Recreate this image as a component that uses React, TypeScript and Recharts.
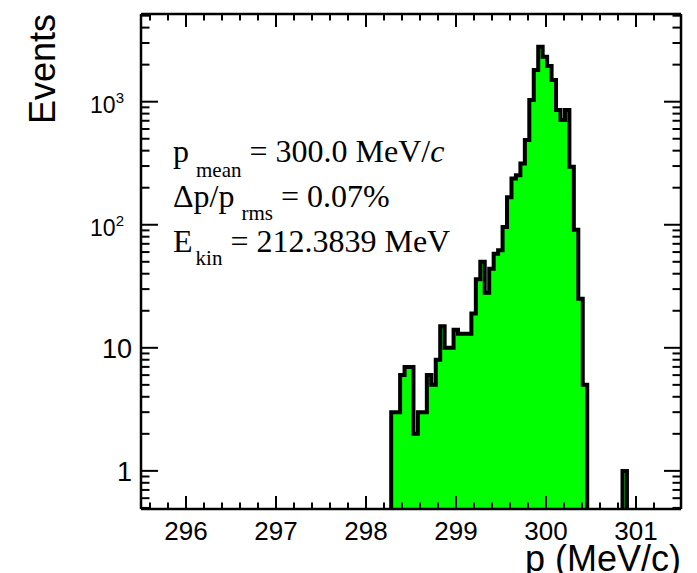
import React from "react";
import { ComposedChart, Area, XAxis, YAxis } from "recharts";

// histogram binning, p in MeV/c
const P_MIN = 295.5;
const P_MAX = 301.5;
const BIN_WIDTH = 0.0495;

// filled bins, read one by one starting at FIRST_BIN
const FIRST_BIN = 298.28;
const counts = [
  3, 3, 6, 7, 7, 2, 3, 3, 6, 5, 8, 15, 10, 10, 14, 13, 13, 13, 19, 36, 50, 28,
  44, 58, 62, 96, 167, 238, 253, 315, 488, 1032, 1811, 2800, 2323, 1950, 1500,
  857, 710, 857, 296, 91, 25, 5,
];

// lone bin out in the tail
const strayBins = [300.85];
const strayCounts = [1];

const Y_MIN = 0.49;
const Y_MAX = 5160;
// empty bins are drawn below the frame and clipped away (log axis has no 0)
const EMPTY = 0.3;

const xMajor = [296, 297, 298, 299, 300, 301];
const yDecades = [1, 10, 100, 1000];
const yLabels: Record<number, [string, string]> = {
  1: ["1", ""],
  10: ["10", ""],
  100: ["10", "2"],
  1000: ["10", "3"],
};

const r2 = (v: number) => Math.round(v * 10000) / 10000;

const xTicks: number[] = [];
for (let i = 0; i < 29; i++) xTicks.push(r2(P_MIN + 0.1 + i * 0.2));
const yTicks: number[] = [0.5, 0.6, 0.7, 0.8, 0.9];
[1, 10, 100, 1000].forEach((d) => {
  for (let m = 1; m <= 9; m++) if (d * m <= Y_MAX) yTicks.push(d * m);
});

const rows: { p: number; n: number }[] = [{ p: P_MIN, n: EMPTY }];
counts.forEach((c, i) => rows.push({ p: r2(FIRST_BIN + i * BIN_WIDTH), n: c }));
rows.push({ p: r2(FIRST_BIN + counts.length * BIN_WIDTH), n: EMPTY });
strayBins.forEach((p, i) => {
  rows.push({ p, n: strayCounts[i] });
  rows.push({ p: r2(p + BIN_WIDTH), n: EMPTY });
});
rows.push({ p: P_MAX, n: EMPTY });

const SANS = "'Liberation Sans', Arial, sans-serif";
const SERIF = "'Liberation Serif', 'Times New Roman', serif";

const isMajorX = (v: number) => xMajor.includes(Math.round(v * 1000) / 1000);

const XTickBottom = (props: any) => {
  const { x, y, payload } = props;
  const major = isMajorX(payload.value);
  return (
    <g>
      <line x1={x} x2={x} y1={y} y2={y - (major ? 13 : 6.5)} stroke="#000" strokeWidth={2} />
      {major && (
        <text x={x} y={y + 31} textAnchor="middle" fontSize={26} fontFamily={SANS} fill="#000">
          {Math.round(payload.value)}
        </text>
      )}
    </g>
  );
};

const XTickTop = (props: any) => {
  const { x, y, payload } = props;
  const major = isMajorX(payload.value);
  return <line x1={x} x2={x} y1={y} y2={y + (major ? 13 : 6.5)} stroke="#000" strokeWidth={2} />;
};

const YTickLeft = (props: any) => {
  const { x, y, payload } = props;
  const dec = yDecades.includes(payload.value);
  const lab = yLabels[payload.value];
  return (
    <g>
      <line x1={x} x2={x + (dec ? 17 : 8.5)} y1={y} y2={y} stroke="#000" strokeWidth={2} />
      {dec && lab[1] === "" && (
        <text x={x - 9} y={y + 10} textAnchor="end" fontSize={27} fontFamily={SANS} fill="#000">
          {lab[0]}
        </text>
      )}
      {dec && lab[1] !== "" && (
        <text x={x - 17} y={y + 11} textAnchor="end" fontSize={23} fontFamily={SANS} fill="#000">
          {lab[0]}
          <tspan dy={-10} fontSize={15}>
            {lab[1]}
          </tspan>
        </text>
      )}
    </g>
  );
};

const YTickRight = (props: any) => {
  const { x, y, payload } = props;
  const dec = yDecades.includes(payload.value);
  return <line x1={x} x2={x - (dec ? 17 : 8.5)} y1={y} y2={y} stroke="#000" strokeWidth={2} />;
};

const frame = { stroke: "#000", strokeWidth: 2.5 };

export default function App() {
  return (
    <div style={{ position: "absolute", left: 0, top: 0, width: 697, height: 573, background: "#fff", fontFamily: SANS }}>
      <ComposedChart width={697} height={573} data={rows} margin={{ top: 13, right: 15, bottom: 24, left: 41 }}>
        <XAxis
          xAxisId="b"
          dataKey="p"
          type="number"
          domain={[P_MIN, P_MAX]}
          allowDataOverflow
          ticks={xTicks}
          interval={0}
          tickSize={0}
          tickMargin={0}
          tickLine={false}
          axisLine={frame}
          tick={(p: any) => <XTickBottom {...p} />}
          height={40}
        />
        <XAxis
          xAxisId="t"
          orientation="top"
          dataKey="p"
          type="number"
          domain={[P_MIN, P_MAX]}
          allowDataOverflow
          ticks={xTicks}
          interval={0}
          tickSize={0}
          tickMargin={0}
          tickLine={false}
          axisLine={frame}
          tick={(p: any) => <XTickTop {...p} />}
          height={1}
        />
        <YAxis
          yAxisId="l"
          type="number"
          scale="log"
          domain={[Y_MIN, Y_MAX]}
          allowDataOverflow
          ticks={yTicks}
          interval={0}
          tickSize={0}
          tickMargin={0}
          tickLine={false}
          axisLine={frame}
          tick={(p: any) => <YTickLeft {...p} />}
          width={100}
        />
        <YAxis
          yAxisId="r"
          orientation="right"
          type="number"
          scale="log"
          domain={[Y_MIN, Y_MAX]}
          allowDataOverflow
          ticks={yTicks}
          interval={0}
          tickSize={0}
          tickMargin={0}
          tickLine={false}
          axisLine={frame}
          tick={(p: any) => <YTickRight {...p} />}
          width={1}
        />
        <Area
          xAxisId="b"
          yAxisId="l"
          type="stepAfter"
          dataKey="n"
          baseValue={Y_MIN}
          stroke="#000"
          strokeWidth={4}
          fill="#00ff00"
          fillOpacity={1}
          dot={false}
          activeDot={false}
          isAnimationActive={false}
        />
      </ComposedChart>
      <svg width={697} height={573} style={{ position: "absolute", left: 0, top: 0, pointerEvents: "none" }}>
        <text x={55} y={69} transform="rotate(-90 55 69)" textAnchor="middle" fontSize={36} fontFamily={SANS} fill="#000">
          Events
        </text>
        <text x={681} y={571} textAnchor="end" fontSize={36} fontFamily={SANS} fill="#000">
          p (MeV/c)
        </text>
        <g fontFamily={SERIF} fill="#000">
          <text x={173} y={162} fontSize={32}>
            p
            <tspan dx={7} dy={15} fontSize={21}>mean</tspan>
            <tspan dy={-15}> = 300.0 MeV/</tspan>
            <tspan fontStyle="italic">c</tspan>
          </text>
          <text x={173} y={207} fontSize={32}>
            Δp/p
            <tspan dx={7} dy={13} fontSize={21}>rms</tspan>
            <tspan dy={-13}> = 0.07%</tspan>
          </text>
          <text x={173} y={252} fontSize={32}>
            E
            <tspan dx={3} dy={13} fontSize={21}>kin</tspan>
            <tspan dy={-13}> = 212.3839 MeV</tspan>
          </text>
        </g>
      </svg>
    </div>
  );
}
